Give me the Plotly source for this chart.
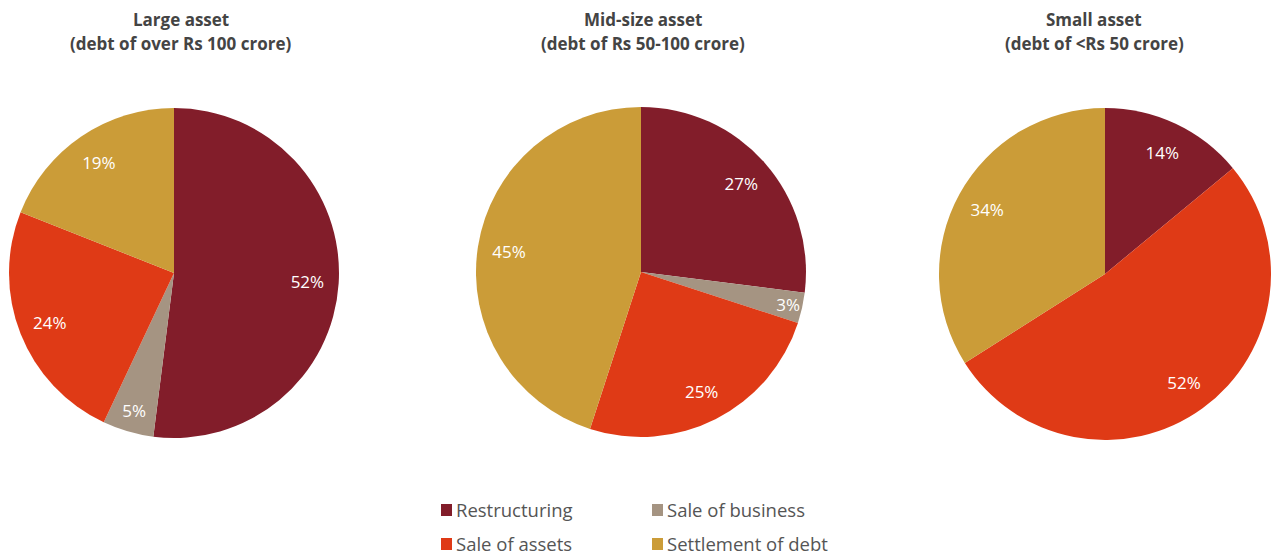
import plotly.graph_objects as go

# Share of resolution outcomes by asset size (percent)
categories = ["Restructuring", "Sale of business", "Sale of assets", "Settlement of debt"]
large_asset = [52, 5, 24, 19]
mid_asset = [27, 3, 25, 45]
small_asset = [14, 0, 52, 34]

titles = [
    ("Large asset", "(debt of over Rs 100 crore)"),
    ("Mid-size asset", "(debt of Rs 50-100 crore)"),
    ("Small asset", "(debt of <Rs 50 crore)"),
]

colors = ["#821d2a", "#a59482", "#df3a16", "#cb9c38"]

W, H = 1271, 557
FONT = "Open Sans"


def px_x(v):
    return v / W


def px_y(v):
    return 1 - v / H


def domain(cx, cy, r):
    x0, x1 = max(px_x(cx - r), 0), min(px_x(cx + r), 1)
    y0, y1 = px_y(cy + r), px_y(cy - r)
    return dict(x=[x0, x1], y=[y0, y1])


pies = [
    (large_asset, domain(174, 273, 165)),
    (mid_asset, domain(641, 272, 165)),
    (small_asset, domain(1105, 274, 166)),
]

fig = go.Figure()
for vals, dom in pies:
    # filled slices
    fig.add_trace(
        go.Pie(
            labels=categories,
            values=vals,
            textinfo="none",
            marker=dict(colors=colors, line=dict(width=0)),
            sort=False,
            direction="clockwise",
            rotation=0,
            domain=dom,
            showlegend=False,
            hoverinfo="label+percent",
        )
    )
    # transparent ring carrying the percentage labels near the rim
    fig.add_trace(
        go.Pie(
            labels=categories,
            values=vals,
            hole=0.62,
            text=[f"{v}%" if v else "" for v in vals],
            textinfo="text",
            textposition="inside",
            insidetextorientation="horizontal",
            textfont=dict(family=FONT, size=17, color="white"),
            marker=dict(colors=["rgba(0,0,0,0)"] * 4, line=dict(width=0)),
            sort=False,
            direction="clockwise",
            rotation=0,
            domain=dom,
            showlegend=False,
            hoverinfo="skip",
        )
    )

# Chart titles, one annotation per line
for (line1, line2), cx in zip(titles, [181, 643, 1094]):
    for txt, cy in ((line1, 19), (line2, 44)):
        fig.add_annotation(
            text=f"<b>{txt}</b>",
            x=px_x(cx), y=px_y(cy), xref="paper", yref="paper",
            xanchor="center", yanchor="middle", showarrow=False,
            font=dict(family=FONT, size=17, color="#444444"),
        )

# Two-column legend below the pies
legend_pos = [(441, 509), (652, 509), (441, 543), (652, 543)]
for name, col, (lx, ly) in zip(categories, colors, legend_pos):
    fig.add_shape(
        type="rect", xref="paper", yref="paper",
        x0=px_x(lx), x1=px_x(lx + 11), y0=px_y(ly + 7), y1=px_y(ly - 5),
        fillcolor=col, line=dict(width=0),
    )
    fig.add_annotation(
        text=name, x=px_x(lx + 13), y=px_y(ly), xref="paper", yref="paper",
        xanchor="left", yanchor="middle", showarrow=False,
        font=dict(family=FONT, size=18.5, color="#555555"),
    )

fig.update_layout(
    width=W, height=H,
    margin=dict(l=0, r=0, t=0, b=0),
    paper_bgcolor="white",
    plot_bgcolor="white",
    uniformtext=dict(minsize=17, mode="show"),
)

fig.write_html("out.html")
